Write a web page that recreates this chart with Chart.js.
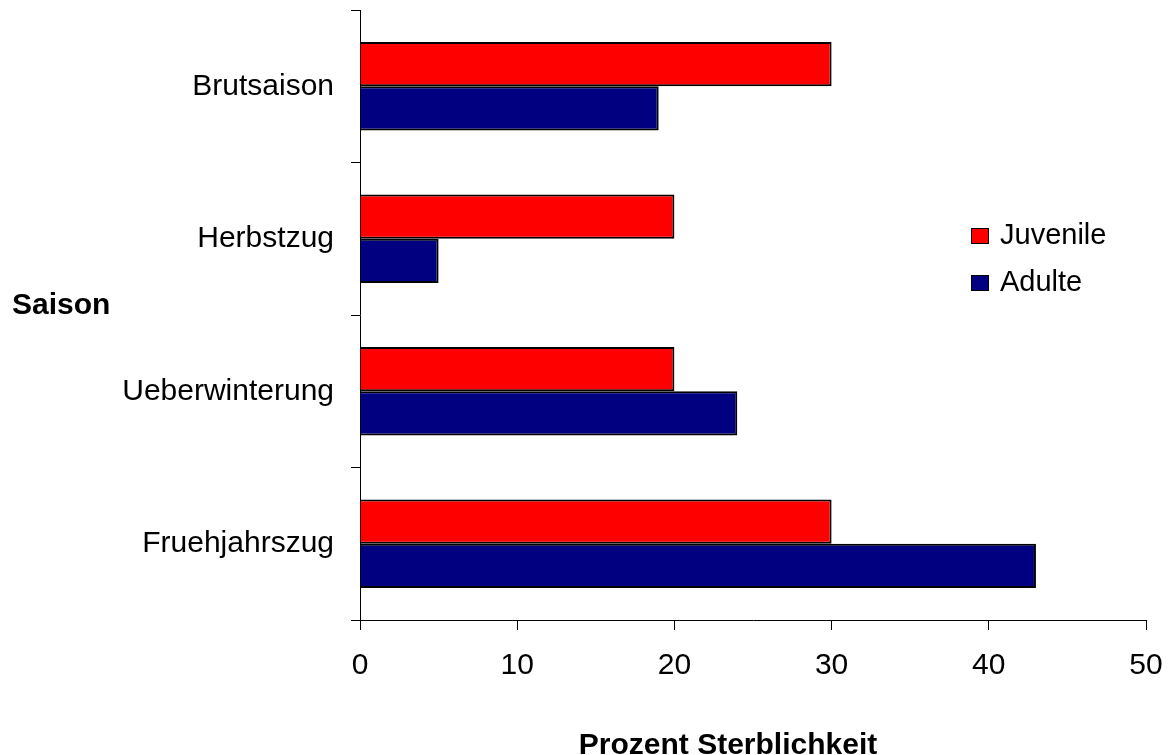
<!DOCTYPE html>
<html>
<head>
<meta charset="utf-8">
<title>Prozent Sterblichkeit nach Saison</title>
<script src="https://cdn.jsdelivr.net/npm/chart.js@4/dist/chart.umd.min.js"></script>
<style>
  html, body { margin: 0; padding: 0; background: #ffffff; }
  #wrap { width: 1173px; height: 755px; }
</style>
</head>
<body>
<div id="wrap"><canvas id="chart" width="1173" height="755"></canvas></div>
<script>
// Seasons (top to bottom) and mortality share in percent
const seasons = ['Brutsaison', 'Herbstzug', 'Ueberwinterung', 'Fruehjahrszug'];
const juvenile = [30, 20, 20, 30];
const adulte = [19, 5, 24, 43];
const seriesNames = ['Juvenile', 'Adulte'];
const xTicks = [0, 10, 20, 30, 40, 50];
const xTitle = 'Prozent Sterblichkeit';
const yTitle = 'Saison';

const FONT = "'Liberation Sans', Arial, Helvetica, sans-serif";

// Horizontal axis title, vertical-axis title (written horizontally) and the legend box
const annotations = {
  id: 'annotations',
  afterDraw(chart) {
    const ctx = chart.ctx;
    ctx.save();
    ctx.fillStyle = '#000000';
    ctx.font = 'bold 30px ' + FONT;
    ctx.textBaseline = 'alphabetic';
    ctx.textAlign = 'left';
    ctx.fillText(yTitle, 12, 314);
    ctx.textAlign = 'center';
    ctx.fillText(xTitle, 728, 754);

    ctx.font = '29px ' + FONT;
    ctx.textAlign = 'left';
    chart.data.datasets.forEach((ds, i) => {
      const y = 228 + i * 47;
      ctx.fillStyle = ds.backgroundColor;
      ctx.fillRect(971, y, 18, 16);
      ctx.strokeStyle = '#000000';
      ctx.lineWidth = 1;
      ctx.strokeRect(971.5, y + 0.5, 17, 15);
      ctx.fillStyle = '#000000';
      ctx.fillText(ds.label, 1000, y + 16);
    });
    ctx.restore();
  }
};

new Chart(document.getElementById('chart'), {
  type: 'bar',
  data: {
    labels: seasons,
    datasets: [
      { label: seriesNames[0], data: juvenile, backgroundColor: '#ff0000', borderColor: '#000000', borderWidth: 2 },
      { label: seriesNames[1], data: adulte, backgroundColor: '#000080', borderColor: '#000000', borderWidth: 2 }
    ]
  },
  options: {
    indexAxis: 'y',
    responsive: false,
    animation: false,
    devicePixelRatio: 1,
    categoryPercentage: 0.58,
    barPercentage: 1.0,
    layout: { padding: { top: 10, right: 27, left: 0, bottom: 0 } },
    plugins: {
      legend: { display: false },
      tooltip: { enabled: false }
    },
    scales: {
      x: {
        type: 'linear',
        min: xTicks[0],
        max: xTicks[xTicks.length - 1],
        afterBuildTicks(scale) { scale.ticks = xTicks.map(v => ({ value: v })); },
        afterFit(scale) {
          scale.height = 135;
          scale.paddingLeft = 0;
          scale.paddingRight = 0;
        },
        ticks: { color: '#000000', font: { family: FONT, size: 30 }, padding: 18, maxRotation: 0 },
        grid: { drawOnChartArea: false, drawTicks: true, tickLength: 10, color: '#000000', lineWidth: 1 },
        border: { display: true, color: '#000000', width: 1 }
      },
      y: {
        type: 'category',
        afterFit(scale) {
          scale.width = 360;
          scale.paddingTop = 0;
          scale.paddingBottom = 0;
        },
        ticks: { color: '#000000', font: { family: FONT, size: 30 }, padding: 17 },
        grid: { offset: true, drawOnChartArea: false, drawTicks: true, tickLength: 9, color: '#000000', lineWidth: 1 },
        border: { display: true, color: '#000000', width: 1 }
      }
    }
  },
  plugins: [annotations]
});
</script>
</body>
</html>
